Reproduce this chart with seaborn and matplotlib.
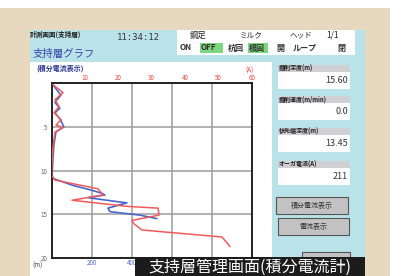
import numpy as np
import pandas as pd
import seaborn as sns
import matplotlib.pyplot as plt
from matplotlib.patches import Rectangle

sns.set_style("white")
plt.rcParams['font.family'] = ['Noto Sans CJK JP', 'DejaVu Sans']

# integrated current (bottom axis, blue) vs depth
blue_depth = [0.2, 1.4, 2.2, 2.9, 3.4, 4.1, 5.0, 5.6, 7.1, 8.8, 10.5, 10.9,
              11.7, 12.2, 12.6, 12.8, 13.1, 13.4, 13.7, 14.3, 14.7, 15.1, 15.5]
blue_val = [6, 46, 16, 41, 16, 41, 61, 21, 11, 6, 2, 6,
            106, 191, 251, 266, 181, 276, 376, 281, 291, 441, 526]

# current (top axis, red) vs depth
red_depth = [0.2, 1.1, 1.9, 2.7, 3.4, 4.2, 4.8, 5.1, 5.6, 7.3, 9.1, 10.6, 11.1,
             11.9, 12.1, 12.8, 13.4, 14.1, 14.3, 15.1, 15.7, 16.1, 16.8, 17.6, 18.7]
red_val = [0.4, 3.4, 1.0, 2.2, 0.7, 2.8, 1.3, 3.4, 1.0, 0.4, 0.1, 0.0, 1.0,
           11.5, 13.9, 15.4, 6.1, 22.6, 31.9, 32.2, 24.1, 24.7, 27.1, 51.1, 53.5]

bottom_ticks = [200, 400, 600, 800]
bottom_labels = ["200", "400", "", ""]  # the rest sit under the caption bar
top_ticks = [10, 20, 30, 40, 50, 60]
depth_ticks = [5, 10, 15, 20]

status_values = ["15.60", "0.0", "13.45", "211"]
status_labels = ["掘削深度(m)", "掘削速度(m/min)", "杭先端深度(m)", "オーガ電流(A)"]

W, H = 405, 276
fig = plt.figure(figsize=(W / 100, H / 100), dpi=100)

# background panel drawn in pixel coordinates
bg = fig.add_axes([0, 0, 1, 1], zorder=-1)
bg.set_xlim(0, W)
bg.set_ylim(H, 0)
bg.axis("off")

def box(x0, y0, x1, y1, fc, ec="none", lw=0, z=1):
    bg.add_patch(Rectangle((x0, y0), x1 - x0, y1 - y0, facecolor=fc, edgecolor=ec, lw=lw, zorder=z))

box(0, 8, 390, H, "#e6d9bf", z=0)
box(30, 30, 365, H, "#b9e2e9")
box(30, 62, 272, H, "white")
box(177, 30, 355, 55, "white")

bg.text(30, 34, "計測画面(支持層)", fontsize=4.8, fontweight="bold", va="center", color="#222")
bg.text(117, 37, "11:34:12", fontsize=6.5, va="center", color="#333", family="DejaVu Sans Mono")
bg.text(33, 54, "支持層グラフ", fontsize=7.5, va="center", color="#3344aa")
bg.text(36, 68, "(積分電流表示)", fontsize=5, va="center", color="#2a3390", fontweight="bold")

# header status area
bg.text(190, 35, "鋼足", fontsize=6, va="center", color="#222")
bg.text(240, 35, "ミルク", fontsize=5.5, va="center", color="#222")
bg.text(290, 35, "ヘッド", fontsize=5.5, va="center", color="#222")
bg.text(326, 35, "1/1", fontsize=6, va="center", color="#222")
box(200, 43, 223, 53, "#7dd67d")
box(248, 43, 268, 53, "#7dd67d")
for x, s in [(180, "ON"), (201, "OFF"), (228, "杭回"), (249, "根固"),
             (276, "開"), (293, "ループ"), (337, "閉")]:
    bg.text(x, 48, s, fontsize=5.8, va="center", color="#333", fontweight="bold")

# right side readouts
for i, (lab, val) in enumerate(zip(status_labels, status_values)):
    y0 = [65, 96, 128, 161][i]
    box(278, y0, 350, y0 + 7, "#cfcfd4")
    bg.text(279, y0 + 3.6, lab, fontsize=4.3, va="center", color="#222", fontweight="bold")
    box(278, y0 + 7, 350, y0 + 24, "white")
    bg.text(348, y0 + 15.5, val, fontsize=6.5, va="center", ha="right", color="#333")

for x0, y0, x1, y1, s in [(276, 197, 348, 214, "積分電流表示"), (278, 218, 349, 235, "電流表示"),
                          (302, 252, 350, 262, "")]:
    box(x0, y0, x1, y1, "#c2c2c2", ec="#555", lw=0.8, z=2)
    bg.text((x0 + x1) / 2, (y0 + y1) / 2, s, fontsize=5, ha="center", va="center", color="#333", zorder=3)

# graph
ax = fig.add_axes([51.7 / W, 1 - 258 / H, 200 / W, 175 / H])
sns.lineplot(x=blue_val, y=blue_depth, sort=False, estimator=None, color="#4a68cc", lw=1.2, ax=ax)
ax.set_xlim(0, 1000)
ax.set_ylim(20, 0)
ax.set_xticks(bottom_ticks)
ax.set_xticklabels(bottom_labels, color="#5566cc")
ax.set_yticks(depth_ticks)
ax.set_yticklabels([str(t) for t in depth_ticks], color="#666")
ax.tick_params(axis="both", labelsize=4.5, length=2, width=0.6, pad=1)
ax.tick_params(axis="x", length=0)
ax.grid(True, color="#9c9c9c", lw=1.1)
for sp in ax.spines.values():
    sp.set_color("#222")
    sp.set_linewidth(1.4)
ax.set_xlabel("")
ax.set_ylabel("")

ax2 = ax.twiny()
sns.lineplot(x=red_val, y=red_depth, sort=False, estimator=None, color="#f25a5a", lw=1.1, ax=ax2)
ax2.set_xlim(0, 60)
ax2.set_xticks(top_ticks)
ax2.set_xticklabels([str(t) for t in top_ticks], color="#ee4444")
ax2.tick_params(axis="x", labelsize=4.5, length=0, pad=1)
for sp in ax2.spines.values():
    sp.set_visible(False)
ax2.set_xlabel("")
ax2.set_ylabel("")
bg.text(250, 71, "(A)", fontsize=4.5, ha="center", va="center", color="#ee4444")
bg.text(38, 266, "(m)", fontsize=4.5, ha="center", va="center", color="#444")

# caption
fig.add_artist(Rectangle((135 / W, 0), 230 / W, 19 / H, transform=fig.transFigure,
                         facecolor="#1c1c1c", edgecolor="none", zorder=5))
fig.text(250 / W, 1 - 267.5 / H, "支持層管理画面(積分電流計)", fontsize=11.5, color="white",
         ha="center", va="center", zorder=6)

fig.savefig("out.png", dpi=100)
